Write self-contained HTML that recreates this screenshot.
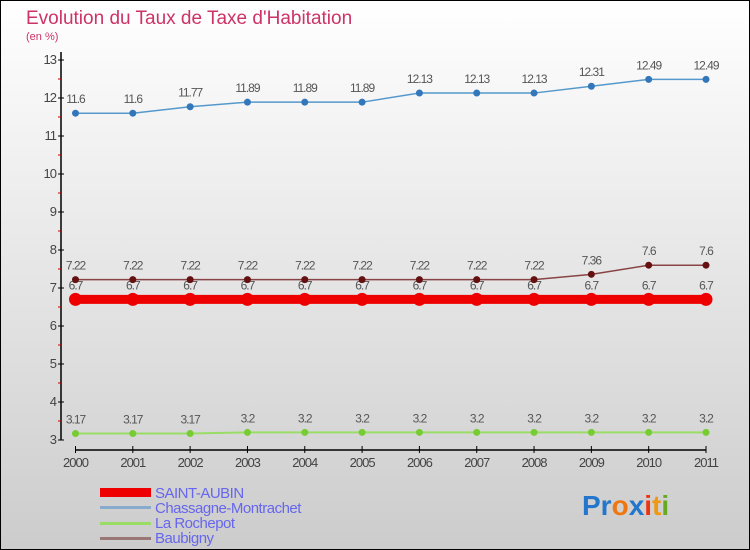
<!DOCTYPE html>
<html><head><meta charset="utf-8"><style>
body{margin:0}
#c{width:750px;height:550px;position:relative;box-sizing:border-box;border:1px solid #000;background:linear-gradient(#fff,#ccc);font-family:"Liberation Sans",sans-serif;overflow:hidden}
</style></head><body>
<div id="c">
<svg id="s" width="750" height="550" style="position:absolute;left:-1px;top:-1px">
<text x="26" y="24" font-size="19" fill="#cc3366">Evolution du Taux de Taxe d'Habitation</text>
<text x="26" y="40" font-size="11" fill="#cc3366">(en %)</text>
<g id="axes"></g><g id="series"></g>
<g>
<rect x="100" y="488" width="51" height="9" fill="#e00"/>
<text x="155" y="498" font-size="15" fill="#6666ee" letter-spacing="-0.5">SAINT-AUBIN</text>
<rect x="100" y="506" width="51" height="3" fill="#88aacc"/>
<text x="155" y="513" font-size="15" fill="#6666ee" letter-spacing="-0.5">Chassagne-Montrachet</text>
<rect x="100" y="522" width="51" height="3" fill="#99dd66"/>
<text x="155" y="528" font-size="15" fill="#6666ee" letter-spacing="-0.5">La Rochepot</text>
<rect x="100" y="537" width="51" height="3" fill="#997777"/>
<text x="155" y="543" font-size="15" fill="#6666ee" letter-spacing="-0.5">Baubigny</text>
</g>
<text x="582" y="515" font-size="28" font-weight="bold"><tspan fill="#2277cc">Pr</tspan><tspan fill="#ee7711">o</tspan><tspan fill="#2277cc">x</tspan><tspan fill="#ee3311">i</tspan><tspan fill="#ee9911">t</tspan><tspan fill="#66aa22">i</tspan></text>
</svg>
</div>
<script>
const years=[2000,2001,2002,2003,2004,2005,2006,2007,2008,2009,2010,2011];
const saintAubin=[6.7,6.7,6.7,6.7,6.7,6.7,6.7,6.7,6.7,6.7,6.7,6.7];
const chassagne=[11.6,11.6,11.77,11.89,11.89,11.89,12.13,12.13,12.13,12.31,12.49,12.49];
const laRochepot=[3.17,3.17,3.17,3.2,3.2,3.2,3.2,3.2,3.2,3.2,3.2,3.2];
const baubigny=[7.22,7.22,7.22,7.22,7.22,7.22,7.22,7.22,7.22,7.36,7.6,7.6];
const yTicks=[3,4,5,6,7,8,9,10,11,12,13];
const NS="http://www.w3.org/2000/svg";
const x=i=>75.5+i*(706-75.5)/(years.length-1);
const y=v=>440-(v-3)*38;
function mk(t,a,p){const e=document.createElementNS(NS,t);for(const k in a)e.setAttribute(k,a[k]);p.appendChild(e);return e;}
const ax=document.getElementById('axes');
const yl=mk('line',{x1:61,y1:y(13)-8,x2:61,y2:y(3),stroke:'#000','stroke-width':1.5},ax);


const xl=mk('line',{x1:75.5,y1:450,x2:706,y2:450,stroke:'#000','stroke-width':1.5},ax);


yTicks.forEach(v=>{
 mk('line',{x1:58,x2:64,y1:y(v),y2:y(v),stroke:'#000'},ax);
 if(v<13) mk('line',{x1:58,x2:61,y1:y(v+0.5),y2:y(v+0.5),stroke:'#c00'},ax);
 const t=mk('text',{x:56,y:y(v)+4,'font-size':13,'text-anchor':'end',fill:'#444','letter-spacing':'-1'},ax);
 t.textContent=v;
 
 
});
years.forEach((yr,i)=>{
 mk('line',{x1:x(i),x2:x(i),y1:446,y2:453,stroke:'#000'},ax);
 const t=mk('text',{x:x(i),y:467,'font-size':13,'text-anchor':'middle',fill:'#444','letter-spacing':'-1'},ax);
 t.textContent=yr;
 
 
});
const sg=document.getElementById('series');
function series(name,vals,lc,pc,lw,r){
 const g=mk('g',{},sg);
 
 
 vals.forEach((v,i)=>{
  const t=mk('text',{x:x(i),y:y(v)-10,'font-size':12,'text-anchor':'middle',fill:'#555','letter-spacing':'-1'},g);
  t.textContent=v;
  
  
 });
 const p=mk('polyline',{points:vals.map((v,i)=>x(i)+','+y(v)).join(' '),fill:'none',stroke:lc,'stroke-width':lw},g);
 
 
 vals.forEach((v,i)=>{
  const c=mk('circle',{cx:x(i),cy:y(v),r:r,fill:pc},g);
  
  
 });
}
series('saint-aubin',saintAubin,'#ee0000','#ee0000',9,6.5);
series('baubigny',baubigny,'#884444','#661111',1.5,3.5);
series('chassagne',chassagne,'#5599cc','#3377bb',1.5,3.5);
series('la-rochepot',laRochepot,'#99dd66','#77cc33',2,3.5);
</script>
</body></html>
